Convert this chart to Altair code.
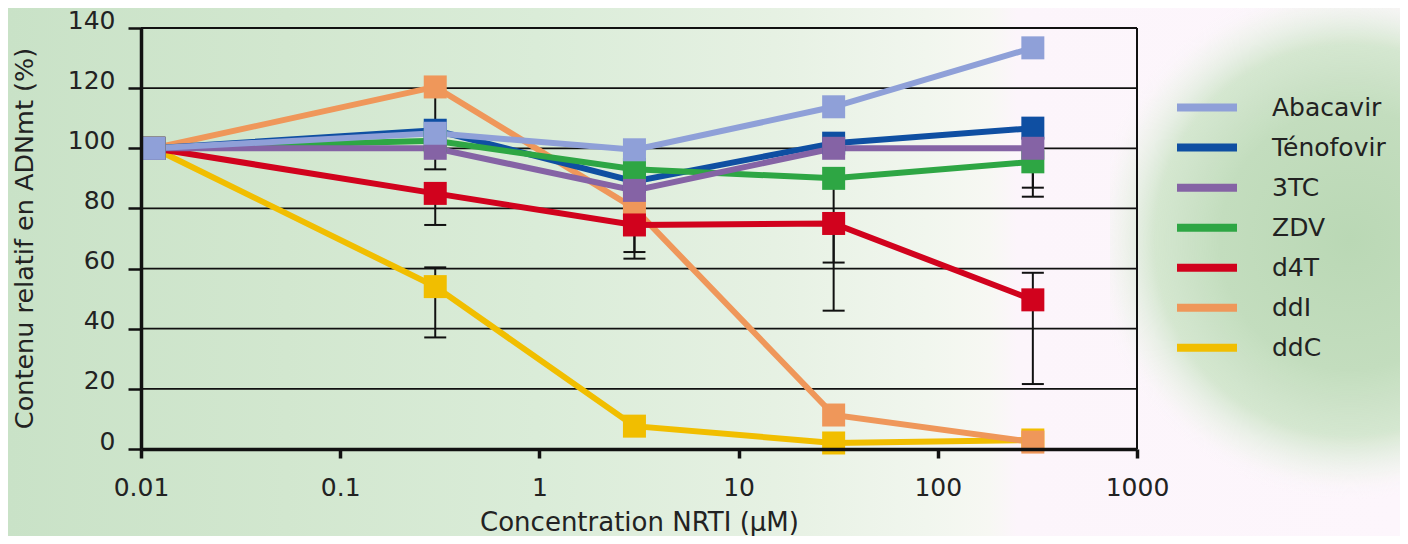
import altair as alt
import pandas as pd

# ---------------- data ----------------
drugs = ["Abacavir", "Ténofovir", "3TC", "ZDV", "d4T", "ddI", "ddC"]
colors = ["#8FA0D8", "#0F4FA2", "#8563A5", "#2EA644", "#D1021D", "#EF975A", "#F1BE00"]
conc = [0.0116, 0.3, 3, 30, 300]

abacavir = [100, 105, 99.5, 113.8, 133.4]
tenofovir = [100, 106, 89, 101.7, 106.7]
lamivudine = [100, 100, 86, 100, 100]
zdv = [100, 102.5, 93, 90, 95.5]
d4t = [100, 85, 74.5, 75, 49.6]
ddi = [100, 120.4, 80, 11.3, 2.3]
ddc = [100, 54, 7.6, 2, 3]
series = [abacavir, tenofovir, lamivudine, zdv, d4t, ddi, ddc]

# drawing order, bottom to top
z_order = ["ddC", "ddI", "d4T", "Ténofovir", "ZDV", "3TC", "Abacavir"]

# error bars
err_conc = [0.3, 0.3, 0.3, 3, 3, 30, 30, 300, 300, 300]
err_low = [93, 74.5, 37.1, 63.3, 65.5, 46, 62, 83.9, 86.9, 21.6]
err_high = [117, 85, 60.4, 74.5, 80, 75, 90, 95.5, 95.5, 58.6]
cap_conc = [0.3, 0.3, 0.3, 0.3, 3, 3, 30, 30, 300, 300, 300, 300]
cap_val = [93, 74.5, 37.1, 60.4, 63.3, 65.5, 46, 62, 83.9, 86.9, 21.6, 58.6]

x_ticks = [0.01, 0.1, 1, 10, 100, 1000]
y_ticks = [0, 20, 40, 60, 80, 100, 120, 140]
grid_vals = [20, 40, 60, 80, 100, 120, 140]

# ---------------- tables ----------------
rows = []
for name, vals in zip(drugs, series):
    for c, v in zip(conc, vals):
        rows.append({"drug": name, "conc": c, "value": v, "z": z_order.index(name)})
df = pd.DataFrame(rows)
err_df = pd.DataFrame({"conc": err_conc, "low": err_low, "high": err_high})
cap_df = pd.DataFrame({"conc": cap_conc, "cap": cap_val})
grid_df = pd.DataFrame({"v": grid_vals})
leg_df = pd.DataFrame({"drug": drugs})
one = pd.DataFrame({"k": [0]})

W, H = 996, 421
FONT = "DejaVu Sans"
TXT = "#222222"
INK = "#111111"

xscale = alt.Scale(type="log", domain=[0.01, 1000], nice=False)
yscale = alt.Scale(domain=[0, 140], nice=False, zero=True)
cscale = alt.Scale(domain=drugs, range=colors)

xaxis = alt.Axis(
    values=x_ticks, format="~g", grid=False, tickSize=9, tickWidth=3.5, tickColor=INK,
    domainColor=INK, domainWidth=3.5, labelFont=FONT, labelFontSize=25, labelColor=TXT,
    labelPadding=17, labelFlush=False, labelOverlap=False,
    title="Concentration NRTI (µM)", titleFont=FONT, titleFontSize=26,
    titleFontWeight="normal", titleColor=TXT, titleX=W / 2, titleY=60,
    titleBaseline="top", zindex=1,
)
yaxis = alt.Axis(
    values=y_ticks, grid=False, tickSize=13, tickWidth=2.5, tickColor=INK,
    domainColor=INK, domainWidth=3.5, labelFont=FONT, labelFontSize=25, labelColor=TXT,
    labelPadding=13, labelBaseline="alphabetic", labelOverlap=False,
    title="Contenu relatif en ADNmt (%)", titleFont=FONT, titleFontSize=25.5,
    titleFontWeight="normal", titleColor=TXT, titleX=-117, titleY=210,
    titleBaseline="middle", titleAngle=-90, zindex=1,
)

# ---------------- background ----------------
bg_grad = alt.LinearGradient(
    gradient="linear", x1=0, x2=1, y1=0, y2=0,
    stops=[
        alt.GradientStop(color="#C9E2C7", offset=0),
        alt.GradientStop(color="#D2E7CF", offset=0.2),
        alt.GradientStop(color="#DAECD8", offset=0.38),
        alt.GradientStop(color="#E6F1E3", offset=0.55),
        alt.GradientStop(color="#F1F6EE", offset=0.66),
        alt.GradientStop(color="#F7F8F3", offset=0.705),
        alt.GradientStop(color="#FCF5FB", offset=0.725),
        alt.GradientStop(color="#FDF6FC", offset=1),
    ],
)
bg = alt.Chart(one).mark_rect(fill=bg_grad, strokeWidth=0).encode(
    x=alt.value(-133), x2=alt.value(1259), y=alt.value(-20), y2=alt.value(508)
)
blob_grad = alt.RadialGradient(
    gradient="radial", x1=0.5, y1=0.5, r1=0, x2=0.5, y2=0.5, r2=0.5,
    stops=[
        alt.GradientStop(color="#BAD8B5", offset=0),
        alt.GradientStop(color="#C3DDBE", offset=0.5),
        alt.GradientStop(color="rgba(205,228,200,0.85)", offset=0.75),
        alt.GradientStop(color="rgba(235,242,232,0.5)", offset=0.9),
        alt.GradientStop(color="rgba(252,246,251,0)", offset=1),
    ],
)
blob = alt.Chart(one).mark_rect(fill=blob_grad, strokeWidth=0).encode(
    x=alt.value(969), x2=alt.value(1449), y=alt.value(-48), y2=alt.value(472)
)

# ---------------- main plot ----------------
X = alt.X("conc:Q", scale=xscale, axis=xaxis)

grid = alt.Chart(grid_df).mark_rule(color=INK, strokeWidth=1.8).encode(
    y=alt.Y("v:Q", scale=yscale, axis=yaxis), x=alt.value(0), x2=alt.value(W)
)
border = alt.Chart(one).mark_rule(color=INK, strokeWidth=2).encode(
    x=alt.value(W), y=alt.value(0), y2=alt.value(H)
)

line_layers = []
for name in z_order:
    line_layers.append(
        alt.Chart(df[df["drug"] == name]).mark_line(strokeWidth=6).encode(
            x=X,
            y=alt.Y("value:Q", scale=yscale, axis=yaxis),
            color=alt.Color("drug:N", scale=cscale, legend=None),
        )
    )

errs = alt.Chart(err_df).mark_rule(color=INK, strokeWidth=2).encode(
    x=X,
    y=alt.Y("low:Q", scale=yscale, axis=yaxis),
    y2="high:Q",
)
caps = alt.Chart(cap_df).mark_rule(color=INK, strokeWidth=2, xOffset=-11, x2Offset=11).encode(
    x=X,
    x2="conc:Q",
    y=alt.Y("cap:Q", scale=yscale, axis=yaxis),
)
squares = alt.Chart(df).mark_square(size=529, opacity=1, strokeWidth=0).encode(
    x=X,
    y=alt.Y("value:Q", scale=yscale, axis=yaxis),
    color=alt.Color("drug:N", scale=cscale, legend=None),
    order=alt.Order("z:Q"),
)

main = alt.layer(grid, *line_layers, errs, caps, squares, border)

# ---------------- legend ----------------
leg_y = alt.Scale(type="point", domain=drugs, range=[79.6, 319.7], padding=0)
leg_lines = alt.Chart(leg_df).mark_rule(strokeWidth=8).encode(
    x=alt.value(1036), x2=alt.value(1096),
    y=alt.Y("drug:N", scale=leg_y, axis=None),
    color=alt.Color("drug:N", scale=cscale, legend=None),
)
leg_text = alt.Chart(leg_df).mark_text(
    align="left", baseline="middle", font=FONT, fontSize=25, color=TXT
).encode(
    x=alt.value(1131),
    y=alt.Y("drug:N", scale=leg_y, axis=None),
    text="drug:N",
)
legend = alt.layer(leg_lines, leg_text)

chart = (
    alt.layer(bg, blob, main, legend)
    .resolve_scale(y="independent")
    .properties(
        width=W, height=H,
        autosize=alt.AutoSizeParams(type="none"),
        padding={"left": 133, "top": 20, "right": 263, "bottom": 87},
    )
    .configure(background="#FDF6FC")
    .configure_view(stroke=None)
)

chart.save("out.html", embed_options={"renderer": "svg", "actions": False})
